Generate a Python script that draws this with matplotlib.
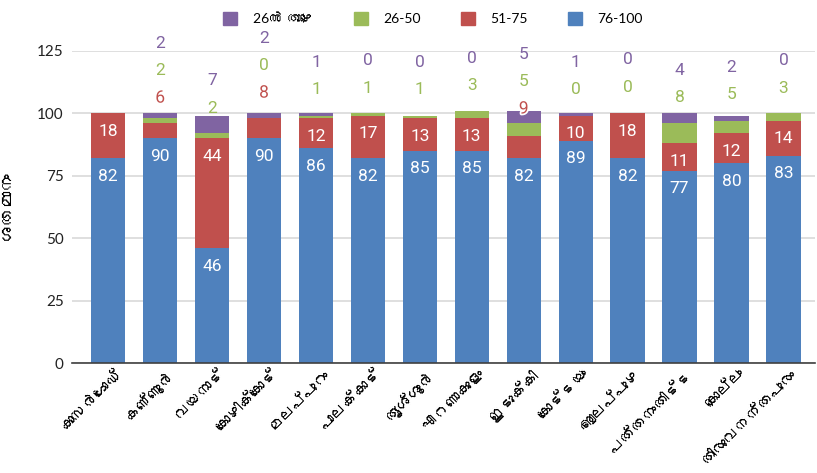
import numpy as np
import matplotlib.pyplot as plt
import matplotlib.patheffects as pe
from matplotlib import font_manager as fm
from matplotlib.patches import Patch

# find a font that can draw Malayalam
def find_font(ch):
    try:
        from fontTools.ttLib import TTFont
    except ImportError:
        return None
    for ent in fm.fontManager.ttflist:
        try:
            tt = TTFont(ent.fname, fontNumber=0, lazy=True)
            if ord(ch) in tt.getBestCmap():
                return ent.name
        except Exception:
            pass
    return None

ml_font = find_font('\u0d15')
ml_family = [ml_font, 'DejaVu Sans'] if ml_font else ['DejaVu Sans']
mixed_family = ['Lato'] + ml_family

districts = ['കാസർഗോഡ്', 'കണ്ണൂർ', 'വയനാട്', 'കോഴിക്കോട്', 'മലപ്പുറം', 'പാലക്കാട്',
             'തൃശ്ശൂർ', 'എറണാകുളം', 'ഇടുക്കി', 'കോട്ടയം', 'ആലപ്പുഴ', 'പത്തനംതിട്ട',
             'കൊല്ലം', 'തിരുവനന്തപുരം']
s76_100 = [82, 90, 46, 90, 86, 82, 85, 85, 82, 89, 82, 77, 80, 83]
s51_75 = [18, 6, 44, 8, 12, 17, 13, 13, 9, 10, 18, 11, 12, 14]
s26_50 = [None, 2, 2, 0, 1, 1, 1, 3, 5, 0, 0, 8, 5, 3]
s_below26 = [None, 2, 7, 2, 1, 0, 0, 0, 5, 1, 0, 4, 2, 0]
legend_labels = ['26ൽ താഴെ', '26-50', '51-75', '76-100']
y_label = 'ശതമാനം'

# where the first small label sits above each bar (chart's own placement)
small_start = [0, 106, 102, 108, 109.3, 110, 109.3, 111, 101.6, 109.3, 110.4, 106.2, 107.3, 110]
step = 11

c_blue, c_red, c_green, c_purple = '#4F81BD', '#C0504D', '#9BBB59', '#8064A2'

fig = plt.figure(figsize=(8.17, 4.73), dpi=100)
ax = fig.add_axes([0.088, 0.232, 0.909, 0.661])

x = np.arange(len(districts))
b1 = np.array(s76_100, float)
b2 = np.array(s51_75, float)
b3 = np.array([v or 0 for v in s26_50], float)
b4 = np.array([v or 0 for v in s_below26], float)
w = 0.66
ax.bar(x, b1, w, color=c_blue, zorder=2)
ax.bar(x, b2, w, bottom=b1, color=c_red, zorder=2)
ax.bar(x, b3, w, bottom=b1 + b2, color=c_green, zorder=2)
ax.bar(x, b4, w, bottom=b1 + b2 + b3, color=c_purple, zorder=2)

lab_kw = dict(ha='center', va='center', fontsize=12.5, family='Roboto', zorder=4, clip_on=False)
halo = [pe.withStroke(linewidth=2.5, foreground='white')]
for i in range(len(x)):
    ax.text(x[i], b1[i] - 7.3, str(s76_100[i]), color='white', **lab_kw)
    k = 0
    if s51_75[i] >= 10:
        ax.text(x[i], b1[i] + b2[i] - 7.3, str(s51_75[i]), color='white', **lab_kw)
    else:
        ax.text(x[i], small_start[i], str(s51_75[i]), color=c_red, path_effects=halo, **lab_kw)
        k += 1
    if s26_50[i] is not None:
        ax.text(x[i], small_start[i] + k * step, str(s26_50[i]), color=c_green, **lab_kw)
        k += 1
    if s_below26[i] is not None:
        ax.text(x[i], small_start[i] + k * step, str(s_below26[i]), color=c_purple, **lab_kw)

ax.set_ylim(0, 125)
ax.set_xlim(-0.7, 13.6)
ax.set_yticks([0, 25, 50, 75, 100, 125])
ax.yaxis.grid(True, color='#d9d9d9', linewidth=1.2, zorder=0)
ax.set_axisbelow(True)
for s in ['top', 'right', 'left']:
    ax.spines[s].set_visible(False)
ax.spines['bottom'].set_color('#404040')
ax.spines['bottom'].set_linewidth(1.2)
ax.spines['bottom'].set_zorder(3)
ax.tick_params(axis='y', length=0, labelsize=11, pad=6, labelcolor='#222222')
ax.tick_params(axis='x', length=0, pad=3)
for lbl in ax.get_yticklabels():
    lbl.set_family('Lato')

ax.set_xticks(x + 0.12)
ax.set_xticklabels(districts, rotation=45, ha='right', rotation_mode='anchor',
                   family=ml_family, fontsize=11.5)
ax.set_ylabel(y_label, family=ml_family, fontsize=12.5)
ax.yaxis.set_label_coords(-0.078, 0.505)

handles = [Patch(color=c) for c in [c_purple, c_green, c_red, c_blue]]
leg = fig.legend(handles, legend_labels, loc='upper center', bbox_to_anchor=(0.53, 1.0),
                 ncol=4, frameon=False, handlelength=1.0, handleheight=1.0,
                 columnspacing=2.9, handletextpad=1.1,
                 prop={'family': mixed_family, 'size': 10})

fig.savefig('out.png', dpi=100)
